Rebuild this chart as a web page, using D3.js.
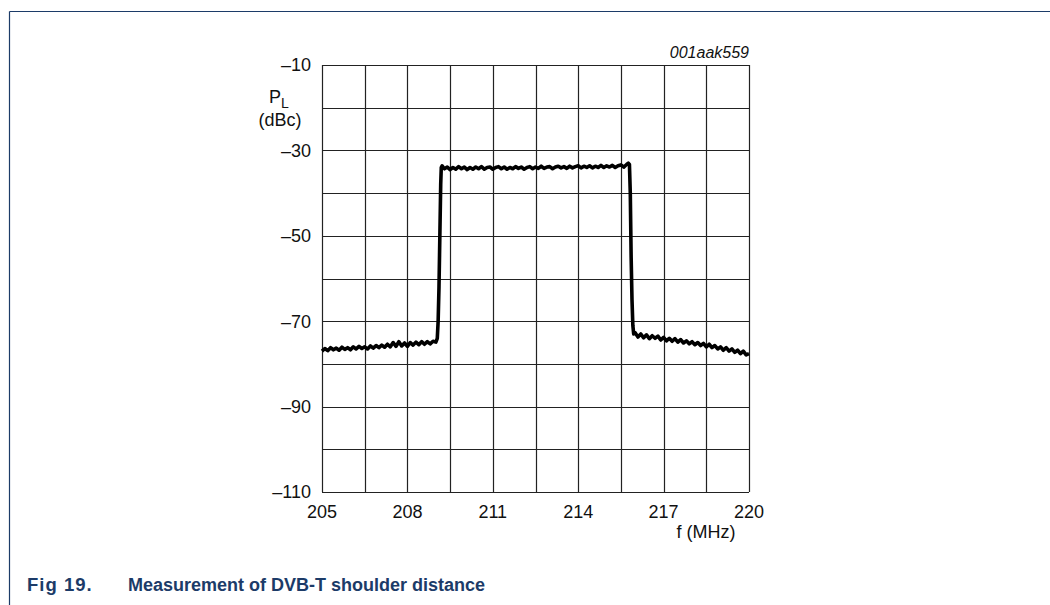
<!DOCTYPE html>
<html>
<head>
<meta charset="utf-8">
<script src="https://cdn.jsdelivr.net/npm/d3@7"></script>
<style>
  body { margin: 0; background: #fff; }
  svg { display: block; font-family: "Liberation Sans", Arial, sans-serif; }
</style>
</head>
<body>
<svg width="1050" height="605"></svg>
<script>
// axis ticks
const xTicks = [205, 208, 211, 214, 217, 220];
const yTicks = [-10, -30, -50, -70, -90, -110];

// trace: frequency (MHz) and level (dBc)
const freq = [
  205.0, 205.1, 205.2, 205.3, 205.4, 205.5, 205.6, 205.7, 205.8, 205.9,
  206.0, 206.1, 206.2, 206.3, 206.4, 206.5, 206.6, 206.7, 206.8, 206.9,
  207.0, 207.1, 207.2, 207.3, 207.4, 207.5, 207.6, 207.7, 207.8, 207.9,
  208.0, 208.1, 208.2, 208.3, 208.4, 208.5, 208.6, 208.7, 208.8, 208.9,
  209.0, 209.05, 209.08, 209.11, 209.14, 209.17, 209.19, 209.22, 209.3,
  209.4, 209.5, 209.6, 209.7, 209.8, 209.9, 210.0, 210.1, 210.2, 210.3,
  210.4, 210.5, 210.6, 210.7, 210.8, 210.9, 211.0, 211.1, 211.2, 211.3,
  211.4, 211.5, 211.6, 211.7, 211.8, 211.9, 212.0, 212.1, 212.2, 212.3,
  212.4, 212.5, 212.6, 212.7, 212.8, 212.9, 213.0, 213.1, 213.2, 213.3,
  213.4, 213.5, 213.6, 213.7, 213.8, 213.9, 214.0, 214.1, 214.2, 214.3,
  214.4, 214.5, 214.6, 214.7, 214.8, 214.9, 215.0, 215.1, 215.2, 215.3,
  215.4, 215.5, 215.6, 215.7, 215.76, 215.8, 215.83, 215.86, 215.89, 215.92,
  215.95, 216.0, 216.1, 216.2, 216.3, 216.4, 216.5, 216.6, 216.7, 216.8,
  216.9, 217.0, 217.1, 217.2, 217.3, 217.4, 217.5, 217.6, 217.7, 217.8,
  217.9, 218.0, 218.1, 218.2, 218.3, 218.4, 218.5, 218.6, 218.7, 218.8,
  218.9, 219.0, 219.1, 219.2, 219.3, 219.4, 219.5, 219.6, 219.7, 219.8,
  219.9, 220.0
];
const level = [
  -77.0, -76.4, -76.9, -76.2, -76.7, -76.3, -76.8, -76.1, -76.6, -76.2,
  -76.7, -76.0, -76.5, -75.9, -76.4, -76.0, -76.5, -75.8, -76.3, -75.7,
  -76.2, -75.6, -76.1, -75.4, -76.0, -75.0, -75.9, -74.8, -75.8, -75.1,
  -75.9, -75.0, -75.6, -74.9, -75.5, -74.8, -75.4, -74.8, -75.3, -74.7,
  -74.9, -74.0, -70.0, -62.0, -50.0, -38.0, -34.0, -33.6, -34.3,
  -33.9, -34.5, -34.0, -34.4, -33.8, -34.3, -33.9, -34.5, -34.0, -34.4,
  -33.9, -34.3, -33.8, -34.4, -34.0, -33.9, -34.4, -34.0, -33.8, -34.3,
  -33.9, -34.4, -34.0, -34.3, -33.8, -34.2, -33.9, -34.4, -34.0, -33.8,
  -34.3, -33.9, -34.2, -33.7, -34.2, -33.9, -33.8, -34.3, -33.9, -33.7,
  -34.1, -33.8, -34.2, -33.7, -34.1, -33.8, -33.6, -34.1, -33.7, -34.0,
  -33.6, -34.1, -33.7, -34.0, -33.5, -34.0, -33.6, -33.9, -33.5, -34.0,
  -33.6, -33.4, -33.9, -33.3, -33.0, -33.3, -40.0, -55.0, -65.0, -71.0,
  -73.0, -72.7, -73.7, -73.0, -73.9, -73.2, -74.1, -73.4, -74.0, -73.5,
  -74.4, -73.8, -74.6, -74.0, -74.7, -74.1, -74.9, -74.3, -75.1, -74.6,
  -75.3, -74.8, -75.5, -75.0, -75.7, -75.2, -76.0, -75.4, -76.2, -75.7,
  -76.5, -76.0, -76.8, -76.2, -77.0, -76.5, -77.3, -76.8, -77.6, -77.0,
  -77.9, -77.6
];

const svg = d3.select("svg");
const navy = "#1c3b68";

// page frame (top and left rule)
svg.append("line").attr("x1", 9.5).attr("y1", 11.5).attr("x2", 1050).attr("y2", 11.5)
  .attr("stroke", navy).attr("stroke-width", 1.2);
svg.append("line").attr("x1", 9.5).attr("y1", 11.5).attr("x2", 9.5).attr("y2", 605)
  .attr("stroke", navy).attr("stroke-width", 1.2);

// plot box
const pLeft = 322, pTop = 65, pRight = 749, pBottom = 492;

const x = d3.scaleLinear().domain([205, 220]).range([pLeft, pRight]);
const y = d3.scaleLinear().domain([-110, -10]).range([pBottom, pTop]);

const g = svg.append("g");

// grid: every 1.5 MHz and every 10 dB
const xGrid = d3.range(0, 11).map(function (i) { return 205 + i * 1.5; });
const yGrid = d3.range(0, 11).map(function (i) { return -110 + i * 10; });

g.selectAll("line.vx").data(xGrid).enter().append("line")
  .attr("class", "vx")
  .attr("x1", function (d) { return Math.round(x(d)) + 0.5; })
  .attr("x2", function (d) { return Math.round(x(d)) + 0.5; })
  .attr("y1", pTop).attr("y2", pBottom)
  .attr("stroke", "#222").attr("stroke-width", 1.2);

g.selectAll("line.hy").data(yGrid).enter().append("line")
  .attr("class", "hy")
  .attr("y1", function (d) { return Math.round(y(d)) + 0.5; })
  .attr("y2", function (d) { return Math.round(y(d)) + 0.5; })
  .attr("x1", pLeft).attr("x2", pRight)
  .attr("stroke", "#222").attr("stroke-width", 1.2);

// tick labels
g.selectAll("text.xt").data(xTicks).enter().append("text")
  .attr("class", "xt")
  .attr("x", function (d) { return x(d); })
  .attr("y", 518)
  .attr("text-anchor", "middle")
  .attr("font-size", 18)
  .attr("fill", "#111")
  .text(function (d) { return d; });

g.selectAll("text.yt").data(yTicks).enter().append("text")
  .attr("class", "yt")
  .attr("x", 311)
  .attr("y", function (d) { return y(d); })
  .attr("dy", "0.35em")
  .attr("text-anchor", "end")
  .attr("font-size", 18)
  .attr("fill", "#111")
  .text(function (d) { return "\u2013" + Math.abs(d); });

// axis titles
const pl = g.append("text").attr("x", 269).attr("y", 103).attr("font-size", 18).attr("fill", "#111");
pl.append("tspan").text("P");
pl.append("tspan").attr("dy", 5).attr("font-size", 14).text("L");
g.append("text").attr("x", 280).attr("y", 126).attr("text-anchor", "middle")
  .attr("font-size", 18).attr("fill", "#111").text("(dBc)");
g.append("text").attr("x", 706).attr("y", 538).attr("text-anchor", "middle")
  .attr("font-size", 18).attr("fill", "#111").text("f (MHz)");

// figure code
g.append("text").attr("x", pRight).attr("y", 58).attr("text-anchor", "end")
  .attr("font-size", 16).attr("font-style", "italic").attr("fill", "#111").text("001aak559");

// measured trace
const pts = freq.map(function (f, i) { return [f, level[i]]; });
const line = d3.line()
  .x(function (d) { return x(d[0]); })
  .y(function (d) { return y(d[1]); });

g.append("path")
  .datum(pts)
  .attr("d", line)
  .attr("fill", "none")
  .attr("stroke", "#000")
  .attr("stroke-width", 3.6)
  .attr("stroke-linejoin", "round");

// caption
svg.append("text").attr("x", 27).attr("y", 591).attr("font-size", 18.5)
  .attr("font-weight", "bold").attr("letter-spacing", 1).attr("fill", navy).text("Fig 19.");
svg.append("text").attr("x", 128).attr("y", 591).attr("font-size", 18)
  .attr("font-weight", "bold").attr("fill", navy).text("Measurement of DVB-T shoulder distance");
</script>
</body>
</html>
